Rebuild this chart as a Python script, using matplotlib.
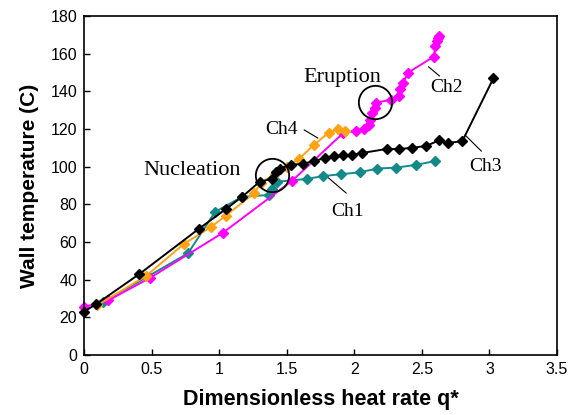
import matplotlib
matplotlib.use("Agg")
import matplotlib.pyplot as plt

# series (q*, wall temperature)
ch1_x = [0.14, 0.77, 0.97, 1.17, 1.37, 1.39, 1.43, 1.65, 1.77, 1.90, 2.04, 2.17, 2.31, 2.46, 2.60]
ch1_y = [28, 54, 76, 84, 85, 88, 92, 93.5, 95, 96, 97, 99, 99.5, 101, 103]

ch2_x = [0.0, 0.18, 0.49, 1.03, 1.54, 1.92, 2.01, 2.07, 2.11, 2.12, 2.13, 2.15, 2.16,
         2.27, 2.33, 2.34, 2.36, 2.40, 2.59, 2.60, 2.61, 2.62, 2.63]
ch2_y = [25.5, 29, 41, 65, 92.5, 118, 119, 120, 122, 125, 128.5, 131, 134,
         135.5, 137.5, 141, 144.5, 150, 158.5, 164, 167, 168.5, 169.5]

ch3_x = [0.0, 0.09, 0.41, 0.85, 1.05, 1.17, 1.30, 1.39, 1.42, 1.45, 1.53, 1.62, 1.70,
         1.78, 1.85, 1.92, 1.98, 2.06, 2.24, 2.33, 2.43, 2.53, 2.63, 2.69, 2.80, 3.03]
ch3_y = [23, 27, 43, 67, 77.5, 84, 92, 93.5, 97, 99, 101, 101.5, 103,
         104.5, 105.5, 106, 106.2, 107.3, 109.4, 109.4, 110, 111, 114, 112.5, 113.6, 147]

ch4_x = [0.10, 0.46, 0.74, 0.94, 1.05, 1.26, 1.31, 1.41, 1.50, 1.59, 1.70, 1.81, 1.88, 1.93]
ch4_y = [26.5, 42, 59, 68, 74, 86, 91.5, 96, 100, 104, 111.5, 118, 120, 119]

# labels: text, text position, leader line start/end
labels = [
    ("Ch1", (1.95, 76), (1.81, 94), (1.94, 86)),
    ("Ch2", (2.68, 142), (2.55, 153), (2.63, 148.2)),
    ("Ch3", (2.97, 100), (2.82, 116.8), (2.94, 108.3)),
    ("Ch4", (1.46, 119.5), (1.63, 119.5), (1.73, 115.2)),
]
events = [("Nucleation", (1.39, 95.6), (0.80, 98)),
          ("Eruption", (2.15, 134.4), (1.91, 147.6))]

fig = plt.figure(figsize=(5.8, 4.15), dpi=100)
ax = fig.add_axes([0.1448, 0.1446, 0.8155, 0.8168])

mk = dict(marker="D", markersize=4.8, linewidth=1.4, clip_on=False)
ax.plot(ch1_x, ch1_y, color="#138a8a", **mk)
ax.plot(ch2_x, ch2_y, color="#ff00ff", **mk)
ax.plot(ch4_x, ch4_y, color="#ffa214", **mk)
ax.plot(ch3_x, ch3_y, color="black", **mk)

serif = "Liberation Serif"
for name, tpos, p0, p1 in labels:
    ax.plot([p0[0], p1[0]], [p0[1], p1[1]], color="black", lw=0.8)
    ax.text(tpos[0], tpos[1], name, fontfamily=serif, fontsize=14,
            ha="center", va="center")

for name, c, tpos in events:
    ax.plot(c[0], c[1], marker="o", markersize=24, markerfacecolor="none",
            markeredgecolor="black", markeredgewidth=1.3)
    ax.text(tpos[0], tpos[1], name, fontfamily=serif, fontsize=16,
            ha="center", va="center")

ax.set_xlim(0, 3.5)
ax.set_ylim(0, 180)
ax.set_xticks([0, 0.5, 1, 1.5, 2, 2.5, 3, 3.5])
ax.set_xticklabels(["0", "0.5", "1", "1.5", "2", "2.5", "3", "3.5"])
ax.set_yticks(range(0, 181, 20))
ax.tick_params(direction="in", length=4, width=1, labelsize=11.5, pad=5)
for lab in ax.get_xticklabels() + ax.get_yticklabels():
    lab.set_fontfamily("Liberation Sans")
for s in ax.spines.values():
    s.set_linewidth(1.2)

ax.set_xlabel("Dimensionless heat rate q*", fontfamily="Liberation Sans",
              fontweight="bold", fontsize=15.5, labelpad=9)
ax.set_ylabel("Wall temperature (C)", fontfamily="Liberation Sans",
              fontweight="bold", fontsize=15, labelpad=8)

fig.savefig("out.png", dpi=100)
